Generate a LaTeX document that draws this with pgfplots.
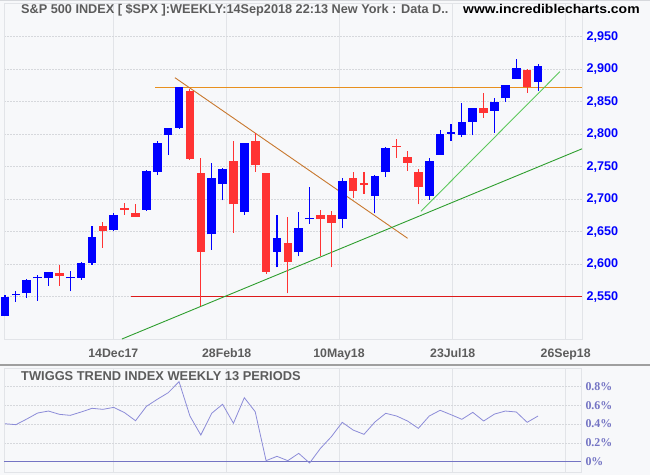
\documentclass[border=0pt]{standalone}
\usepackage{pgfplots}
\usepackage{pgfplotstable}
\pgfplotsset{compat=1.18}
\usepackage{fontspec}
\setmainfont{Liberation Sans}
\newfontfamily\serifb{Liberation Serif}
\definecolor{bg}{HTML}{F7F8FA}
\definecolor{hgrid}{HTML}{D6D8DC}
\definecolor{vgrid}{HTML}{E2E4E8}
\definecolor{cblue}{HTML}{0000FF}
\definecolor{cred}{HTML}{FF3333}
\definecolor{ttl}{HTML}{5C5C5C}
\definecolor{purp}{HTML}{7474C4}
\definecolor{twl}{HTML}{8C8CD8}
\definecolor{gdark}{HTML}{2E9E2E}
\definecolor{glight}{HTML}{5CC85C}
\definecolor{brown}{HTML}{C8782E}
\definecolor{orng}{HTML}{E8901E}
\definecolor{hred}{HTML}{DD1A1A}

\pgfplotstableread{
x o h l c
0 2521 2553 2520 2550
1 2552 2559 2542 2554
2 2556 2577 2548 2575
3 2578 2584 2544 2581
4 2578 2588 2567 2588
6 2578 2590 2558 2580
7 2579 2604 2576 2602
8 2602 2658 2599 2642
10 2653 2679 2651 2676
13 2684 2745 2682 2744
14 2742 2789 2737 2787
15 2799 2810 2768 2810
16 2810 2873 2808 2873
19 2646 2755 2622 2733
20 2724 2748 2698 2747
22 2681 2787 2676 2787
25 2619 2675 2595 2641
27 2618 2681 2612 2656
28 2669 2718 2662 2671
31 2670 2733 2655 2728
34 2705 2737 2678 2735
35 2742 2781 2734 2779
39 2705 2764 2699 2759
40 2768 2806 2768 2801
41 2801 2816 2790 2803
42 2799 2848 2795 2819
43 2819 2841 2798 2841
45 2836 2856 2802 2850
46 2855 2876 2850 2875
47 2885 2916 2885 2902
49 2881 2908 2867 2905
}\upT

\pgfplotstableread{
x o h l c
5 2587 2598 2567 2582
9 2658 2665 2625 2651
11 2686 2694 2676 2684
12 2679 2692 2673 2673
17 2866 2870 2760 2762
18 2741 2764 2535 2619
21 2758 2790 2648 2692
23 2790 2802 2742 2752
24 2741 2741 2585 2588
26 2633 2672 2555 2604
29 2676 2684 2613 2670
30 2675 2682 2595 2664
32 2733 2742 2702 2713
33 2725 2742 2708 2722
36 2782 2792 2764 2780
37 2765 2774 2744 2756
38 2742 2747 2692 2719
44 2841 2864 2825 2833
48 2898 2900 2864 2873
}\downT

\pgfplotstableread{
x v
0 0.404
1 0.394
2 0.454
3 0.518
4 0.539
5 0.504
6 0.493
7 0.529
8 0.568
9 0.557
10 0.578
11 0.521
12 0.436
13 0.589
14 0.664
15 0.734
16 0.851
17 0.486
18 0.284
19 0.515
20 0.611
21 0.409
22 0.681
23 0.532
24 0.011
25 0.057
26 0.011
27 0.089
28 -0.014
29 0.142
30 0.266
31 0.419
32 0.337
33 0.291
34 0.422
35 0.515
36 0.486
37 0.433
38 0.355
39 0.486
40 0.547
41 0.500
42 0.451
43 0.525
44 0.433
45 0.507
46 0.539
47 0.529
48 0.419
49 0.486
}\twT

\begin{document}
\begin{tikzpicture}[x=1pt,y=1pt]
\fill[bg] (0,0) rectangle (650,475);
\useasboundingbox (0,0) rectangle (650,475);
\draw[color=hgrid, line width=1pt] (0,474.5) -- (650,474.5);
\draw[color=gray!75, line width=2pt] (0,110) -- (650,110);

\begin{axis}[
  at={(4pt,136pt)}, anchor=south west,
  width=578pt, height=336pt, scale only axis,
  xmin=-0.092, xmax=53.04, ymin=2484.9, ymax=3001.8,
  clip=false,
  axis line style={draw=vgrid, line width=0.8pt},
  major tick length=0,
  xtick={9.96,20.38,30.70,41.16,51.54},
  xticklabels={14Dec17,28Feb18,10May18,23Jul18,26Sep18},
  xticklabel style={font=\fontsize{12.3}{14}\selectfont\bfseries, text=ttl, anchor=base, yshift=-18pt},
  ytick={2550,2600,2650,2700,2750,2800,2850,2900,2950},
  yticklabels={{2,550},{2,600},{2,650},{2,700},{2,750},{2,800},{2,850},{2,900},{2,950}},
  yticklabel pos=right,
  yticklabel style={font=\fontsize{12.6}{14}\selectfont\bfseries, text=cblue, anchor=west, xshift=1pt},
  xmajorgrids, ymajorgrids,
  major x grid style={solid, color=vgrid, line width=0.8pt},
  major y grid style={color=hgrid, dash pattern=on 2pt off 1pt, line width=0.7pt},
]
% horizontal reference lines
\addplot[hred, line width=1pt] coordinates {(11.58,2550) (53.04,2550)};
\addplot[orng, line width=1pt] coordinates {(13.79,2872) (53.04,2872)};
% trend lines
\addplot[brown, line width=0.9pt] coordinates {(15.62,2886.9) (37.01,2639.8)};
\addplot[gdark, line width=0.9pt] coordinates {(10.75,2484.9) (53.04,2777.5)};
\addplot[glight, line width=0.9pt] coordinates {(38.24,2681.4) (51.01,2896.2)};
% wicks
\addplot[forget plot, draw=none, mark=none,
  error bars/.cd, y dir=plus, y explicit, error mark=none,
  error bar style={draw=cblue, solid, line width=1.1pt}]
  table[x=x, y=l, y error plus expr=\thisrow{h}-\thisrow{l}] {\upT};
\addplot[forget plot, draw=none, mark=none,
  error bars/.cd, y dir=plus, y explicit, error mark=none,
  error bar style={draw=cred, solid, line width=1.1pt}]
  table[x=x, y=l, y error plus expr=\thisrow{h}-\thisrow{l}] {\downT};
% bodies
\addplot[forget plot, draw=none, mark=none,
  error bars/.cd, y dir=plus, y explicit, error mark=none,
  error bar style={draw=cblue, solid, line width=8.6pt}]
  table[x=x, y=o, y error plus expr=\thisrow{c}-\thisrow{o}] {\upT};
\addplot[forget plot, draw=none, mark=none,
  error bars/.cd, y dir=plus, y explicit, error mark=none,
  error bar style={draw=cred, solid, line width=8.6pt}]
  table[x=x, y=c, y error plus expr=\thisrow{o}-\thisrow{c}] {\downT};
\end{axis}

\begin{axis}[
  at={(4pt,3pt)}, anchor=south west,
  width=577pt, height=104pt, scale only axis,
  xmin=-0.092, xmax=52.95, ymin=-0.1096, ymax=0.9968,
  clip=false,
  axis line style={draw=vgrid, line width=0.8pt},
  major tick length=0,
  xtick={9.96,20.38,30.70,41.16,51.54},
  xticklabels={},
  ytick={0,0.2,0.4,0.6,0.8},
  yticklabels={0\%,0.2\%,0.4\%,0.6\%,0.8\%},
  yticklabel pos=right,
  yticklabel style={font=\serifb\fontsize{11.9}{14}\selectfont\bfseries, text=purp, anchor=west, xshift=1pt},
  xmajorgrids, ymajorgrids,
  major x grid style={solid, color=vgrid, line width=0.8pt},
  major y grid style={color=hgrid, dash pattern=on 2pt off 1pt, line width=0.7pt},
]
\addplot[purp, line width=1pt] coordinates {(-0.092,0) (52.95,0)};
\addplot[twl, line width=0.8pt, mark=none] table[x=x, y=v] {\twT};
\end{axis}

\node[anchor=base west, inner sep=0, text=ttl, font=\fontsize{12.7}{14}\selectfont\bfseries] at (21,461) {S\&P 500 INDEX [ \$SPX ]:WEEKLY:14Sep2018 22:13 New York : Data D..};
\node[anchor=base west, inner sep=0, text=black, font=\fontsize{12.7}{14}\selectfont\bfseries] at (463,461) {\scalebox{1.10}[1]{www.incrediblecharts.com}};
\node[anchor=base west, inner sep=0, text=ttl, font=\fontsize{12.85}{14}\selectfont\bfseries] at (21,95) {TWIGGS TREND INDEX WEEKLY 13 PERIODS};
\end{tikzpicture}
\end{document}
